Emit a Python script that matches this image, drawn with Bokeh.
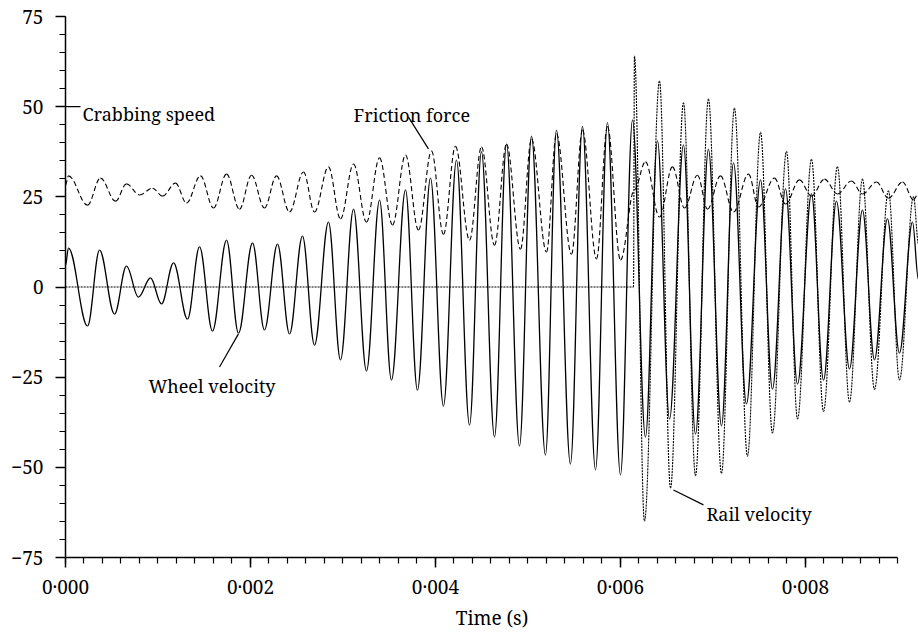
from bokeh.plotting import figure
from bokeh.models import FixedTicker, CustomJSTickFormatter, Range1d
from bokeh.embed import file_html
from bokeh.resources import INLINE
from bokeh.core.properties import value

# ---------------- data ----------------
# times in milliseconds, values in the plotted units
wheel_t_ms = [0.000, 0.032, 0.238, 0.368, 0.530, 0.659, 0.789, 0.919, 1.038, 1.168,
              1.319, 1.449, 1.589, 1.741, 1.870, 2.022, 2.151, 2.292, 2.422, 2.562,
              2.692, 2.843, 2.973, 3.114, 3.254, 3.395, 3.524, 3.676, 3.805, 3.946,
              4.086, 4.227, 4.368, 4.497, 4.638, 4.768, 4.908, 5.038, 5.189, 5.308,
              5.459, 5.589, 5.730, 5.859, 6.000, 6.130, 6.270, 6.400, 6.530, 6.681,
              6.811, 6.951, 7.092, 7.222, 7.362, 7.514, 7.643, 7.784, 7.914, 8.065,
              8.195, 8.335, 8.476, 8.616, 8.746, 8.886, 9.016, 9.157, 9.222]
wheel_v = [6.0, 10.8, -10.8, 10.2, -7.5, 5.8, -2.8, 2.5, -4.7, 6.7,
           -8.9, 11.1, -12.2, 13.0, -12.8, 12.2, -11.9, 11.9, -13.0, 14.1,
           -16.1, 18.0, -20.2, 21.6, -23.3, 24.1, -25.8, 26.9, -28.6, 30.2,
           -33.0, 35.2, -38.3, 37.5, -41.6, 39.6, -44.1, 41.8, -46.6, 43.5,
           -49.1, 44.5, -50.7, 45.6, -52.1, 46.3, -41.6, 40.5, -36.6, 39.4,
           -40.8, 38.2, -38.5, 34.4, -32.4, 29.7, -28.3, 27.2, -26.9, 25.8,
           -25.8, 23.8, -22.7, 21.3, -20.2, 18.9, -18.3, 18.0, 2.0]

rail_t_ms = [0.000, 6.141, 6.151, 6.259, 6.422, 6.541, 6.681, 6.811, 6.951, 7.092,
             7.232, 7.373, 7.514, 7.643, 7.795, 7.914, 8.065, 8.195, 8.346, 8.476,
             8.616, 8.746, 8.897, 9.016, 9.168, 9.222]
rail_v = [0.0, 0.0, 64.0, -64.9, 57.1, -55.7, 51.1, -52.3, 52.1, -51.7,
          49.6, -46.9, 42.9, -40.5, 37.6, -36.6, 35.4, -34.5, 33.4, -31.9,
          29.9, -28.4, 26.7, -25.8, 25.0, 12.0]

friction_t_ms = [0.000, 0.032, 0.238, 0.378, 0.541, 0.659, 0.800, 0.941, 1.049, 1.189,
                 1.308, 1.459, 1.600, 1.741, 1.881, 2.011, 2.151, 2.281, 2.422, 2.573,
                 2.692, 2.843, 2.973, 3.114, 3.254, 3.395, 3.535, 3.676, 3.816, 3.957,
                 4.086, 4.216, 4.368, 4.497, 4.638, 4.768, 4.919, 5.038, 5.200, 5.308,
                 5.470, 5.589, 5.741, 5.859, 6.000, 6.151, 6.270, 6.422, 6.562, 6.692,
                 6.832, 6.941, 7.081, 7.222, 7.384, 7.492, 7.665, 7.784, 7.935, 8.065,
                 8.205, 8.346, 8.497, 8.616, 8.768, 8.897, 9.049, 9.168, 9.222]
friction_v = [28.3, 30.8, 22.7, 30.2, 23.8, 28.6, 25.5, 27.4, 25.2, 28.8,
              23.3, 30.8, 21.9, 31.3, 21.6, 31.0, 21.9, 30.8, 20.8, 31.9,
              20.8, 33.3, 18.9, 34.1, 18.0, 35.8, 17.2, 36.6, 15.8, 37.7,
              14.6, 39.0, 13.0, 38.8, 11.6, 39.6, 10.5, 41.0, 9.7, 42.5,
              9.1, 43.5, 7.8, 44.5, 7.5, 27.0, 34.7, 19.4, 33.3, 21.9,
              31.0, 21.6, 30.8, 20.8, 31.3, 22.2, 30.2, 23.0, 29.7, 25.2,
              29.9, 25.8, 29.4, 25.8, 29.1, 24.6, 29.1, 24.2, 26.0]

x_ticks = [0.0, 0.002, 0.004, 0.006, 0.008]
x_tick_labels = ["0\u00b7000", "0\u00b7002", "0\u00b7004", "0\u00b7006", "0\u00b7008"]
y_ticks = [-75, -50, -25, 0, 25, 50, 75]
y_tick_labels = ["\u221275", "\u221250", "\u221225", "0", "25", "50", "75"]

FONT = "Noto Serif"

# ---------------- figure ----------------
p = figure(width=918, height=633, output_backend="svg", toolbar_location=None,
           x_range=Range1d(0, 0.009222), y_range=Range1d(-75, 75),
           min_border_left=65, min_border_right=0, min_border_top=16, min_border_bottom=76)
p.outline_line_color = None
p.grid.visible = False
p.background_fill_color = "white"
p.border_fill_color = "white"


def fmt(tvals, tlabels):
    return CustomJSTickFormatter(args=dict(tv=tvals, tl=tlabels), code="""
        let best = 0, d = Infinity;
        for (let i = 0; i < tv.length; i++) {
            const e = Math.abs(tv[i] - tick);
            if (e < d) { d = e; best = i; }
        }
        return tl[best];
    """)


xa = p.xaxis[0]
xa.ticker = FixedTicker(ticks=x_ticks, minor_ticks=[i * 0.0002 for i in range(46)])
xa.formatter = fmt(x_ticks, x_tick_labels)
xa.bounds = (0, 0.009)
xa.axis_label = "Time (s)"
ya = p.yaxis[0]
ya.ticker = FixedTicker(ticks=y_ticks, minor_ticks=list(range(-75, 76, 5)))
ya.formatter = fmt(y_ticks, y_tick_labels)

for ax in (xa, ya):
    ax.axis_line_width = 1.5
    ax.axis_line_color = "black"
    ax.major_tick_line_width = 1.5
    ax.minor_tick_line_width = 1.2
    ax.major_tick_line_color = "black"
    ax.minor_tick_line_color = "black"
    ax.major_tick_in = 0
    ax.major_tick_out = 10
    ax.minor_tick_in = 0
    ax.minor_tick_out = 6
    ax.major_label_text_font = FONT
    ax.major_label_text_font_size = "19px"
    ax.major_label_text_color = "black"
    ax.axis_label_text_font = FONT
    ax.axis_label_text_font_size = "19px"
    ax.axis_label_text_font_style = "normal"
    ax.axis_label_text_color = "black"
xa.major_label_standoff = 6
xa.axis_label_standoff = 2
ya.major_label_standoff = 12

K = 0.3642  # cubic approximation of a half cosine between extrema


def smooth(t_ms, v, **kw):
    t = [a * 1e-3 for a in t_ms]
    x0, x1 = t[:-1], t[1:]
    y0, y1 = v[:-1], v[1:]
    cx0 = [a + K * (b - a) for a, b in zip(x0, x1)]
    cx1 = [b - K * (b - a) for a, b in zip(x0, x1)]
    p.bezier(x0=x0, y0=y0, x1=x1, y1=y1, cx0=cx0, cy0=y0, cx1=cx1, cy1=y1,
             line_color="black", **kw)


smooth(friction_t_ms, friction_v, line_width=1.1, line_dash="5 3")
smooth(rail_t_ms, rail_v, line_width=1.1, line_dash="2 1")
smooth(wheel_t_ms, wheel_v, line_width=1.3)

# ---------------- annotations ----------------
lead_x0 = [0.0, 0.003708, 0.001665, 0.006573]
lead_y0 = [50.0, 47.1, -22.2, -56.3]
lead_x1 = [0.000162, 0.003924, 0.001870, 0.006897]
lead_y1 = [50.0, 38.3, -13.0, -60.4]
p.segment(x0=lead_x0, y0=lead_y0, x1=lead_x1, y1=lead_y1, line_color="black", line_width=1.2)

lab_text = ["Crabbing speed", "Friction force", "Wheel velocity", "Rail velocity"]
lab_x = [0.000184, 0.003114, 0.000897, 0.006930]
lab_y = [48.1, 47.8, -27.4, -62.9]
p.text(x=lab_x, y=lab_y, text=lab_text, text_font=value(FONT), text_font_size="18px",
       text_baseline="alphabetic", text_align="left", text_color="black")

open("out.html", "w").write(file_html(p, INLINE))
